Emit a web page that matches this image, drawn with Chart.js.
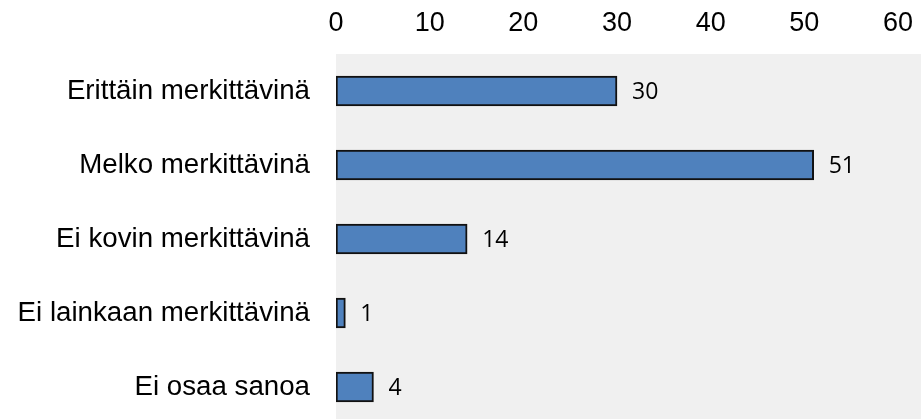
<!DOCTYPE html>
<html>
<head>
<meta charset="utf-8">
<script src="https://cdn.jsdelivr.net/npm/chart.js@4/dist/chart.umd.min.js"></script>
<style>
  html, body { margin:0; padding:0; background:#fff; }
  #wrap { position:relative; width:921px; height:419px; }
</style>
</head>
<body>
<div id="wrap"><canvas id="chart"></canvas></div>
<script>
// Data
const categories = ['Erittäin merkittävinä', 'Melko merkittävinä', 'Ei kovin merkittävinä', 'Ei lainkaan merkittävinä', 'Ei osaa sanoa'];
const values = [30, 51, 14, 1, 4];
const xTicks = [0, 10, 20, 30, 40, 50, 60];

// grey plot area, runs on to the right and bottom edge like the original
const plotBg = {
  id: 'plotBg',
  beforeDraw(chart) {
    const { ctx, chartArea } = chart;
    ctx.save();
    ctx.fillStyle = '#f0f0f0';
    ctx.fillRect(chartArea.left, chartArea.top, chart.width - chartArea.left, chart.height - chartArea.top);
    ctx.restore();
  }
};

// value labels to the right of each bar
const valueLabels = {
  id: 'valueLabels',
  afterDatasetsDraw(chart) {
    const { ctx } = chart;
    const meta = chart.getDatasetMeta(0);
    ctx.save();
    ctx.font = '23px "Open Sans"';
    ctx.fillStyle = '#000';
    ctx.textAlign = 'left';
    ctx.textBaseline = 'middle';
    meta.data.forEach((bar, i) => {
      ctx.fillText(String(values[i]), bar.x + 15, bar.y + 1);
    });
    ctx.restore();
  }
};

new Chart(document.getElementById('chart'), {
  type: 'bar',
  data: {
    datasets: [{
      data: values.map((v, i) => ({ x: v, y: i })),
      backgroundColor: '#4f81bd',
      borderColor: '#111',
      borderWidth: 2,
      borderSkipped: false,
      barThickness: 30
    }]
  },
  options: {
    indexAxis: 'y',
    responsive: true,
    maintainAspectRatio: false,
    animation: false,
    layout: { padding: { top: 0, right: 23, bottom: 0, left: 0 } },
    plugins: { legend: { display: false }, tooltip: { enabled: false } },
    scales: {
      x: {
        type: 'linear',
        position: 'top',
        min: 0, max: 60,
        offset: false,
        afterBuildTicks: s => { s.ticks = xTicks.map(v => ({ value: v })); },
        afterFit: s => { s.height = 54; },
        grid: { display: false },
        border: { display: false },
        ticks: { color: '#000', padding: 6, font: { family: '"Liberation Sans", Arial', size: 27 } }
      },
      y: {
        type: 'linear',
        reverse: true,
        offset: false,
        min: -0.5, max: 4.432,
        afterBuildTicks: s => { s.ticks = categories.map((c, i) => ({ value: i })); },
        afterFit: s => { s.width = 336; s.paddingTop = 0; s.paddingBottom = 0; },
        grid: { display: false },
        border: { display: false },
        ticks: {
          color: '#000', padding: 18,
          font: { family: '"Liberation Sans", Arial', size: 27.7 },
          callback: v => categories[v]
        }
      }
    }
  },
  plugins: [plotBg, valueLabels]
});
</script>
</body>
</html>
